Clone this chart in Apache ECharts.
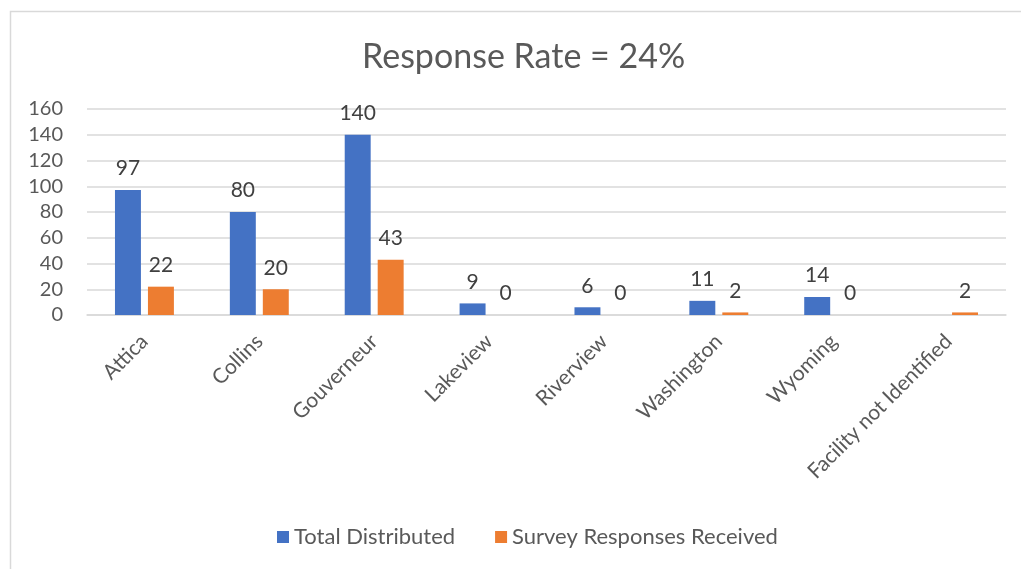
<!DOCTYPE html>
<html><head><meta charset="utf-8">
<script src="https://cdn.jsdelivr.net/npm/echarts@6/dist/echarts.min.js"></script>
<style>html,body{margin:0;padding:0;background:#fff}#c{width:1021px;height:569px}</style>
</head><body><div id="c"></div>
<script>
const categories = ["Attica","Collins","Gouverneur","Lakeview","Riverview","Washington","Wyoming","Facility not Identified"];
const totalDistributed = [97,80,140,9,6,11,14,null];
const surveyResponses = [22,20,43,0,0,2,0,2];
const yTicks = [0,20,40,60,80,100,120,140,160];
const titleText = "Response Rate = 24%";
const seriesNames = ["Total Distributed","Survey Responses Received"];

const FONT = "Lato";
const grey = "#595959";
const chart = echarts.init(document.getElementById('c'), null, {renderer:'canvas'});
const lbl = {show:true, position:'top', distance:11, color:"#404040", fontSize:21, fontFamily:FONT};
chart.setOption({
  animation:false,
  graphic:[{type:'rect', shape:{x:10.5,y:11.5,width:1030,height:600}, style:{fill:null, stroke:'#d9d9d9', lineWidth:1.5}, silent:true}],
  title:{text:titleText, left:362, top:40, padding:0, textStyle:{fontFamily:FONT, fontSize:34, fontWeight:'normal', color:grey}},
  legend:{bottom:16, left:272, itemWidth:12, itemHeight:12, itemGap:40, icon:'rect',
    textStyle:{fontFamily:FONT, fontSize:22, color:grey}, data:seriesNames},
  grid:{left:87, right:15, top:109, bottom:254, containLabel:false},
  xAxis:{type:'category', data:categories,
    axisLine:{lineStyle:{color:'#d9d9d9', width:1.5}}, axisTick:{show:false},
    axisLabel:{rotate:45, interval:0, margin:23, fontFamily:FONT, fontSize:21, color:grey}},
  yAxis:{type:'value', min:0, max:160, interval:20,
    axisLine:{show:false}, axisTick:{show:false},
    splitLine:{lineStyle:{color:'#d9d9d9', width:1.5}},
    axisLabel:{fontFamily:FONT, fontSize:20, color:grey, margin:24, formatter:v=>yTicks.includes(v)?String(v):''}},
  series:[
    {name:seriesNames[0], type:'bar', data:totalDistributed, barWidth:'22.6%', barGap:'27%', itemStyle:{color:'#4472c4'}, label:lbl},
    {name:seriesNames[1], type:'bar', data:surveyResponses, barWidth:'22.6%', barGap:'27%', itemStyle:{color:'#ed7d31'}, label:lbl}
  ]
});
</script></body></html>
